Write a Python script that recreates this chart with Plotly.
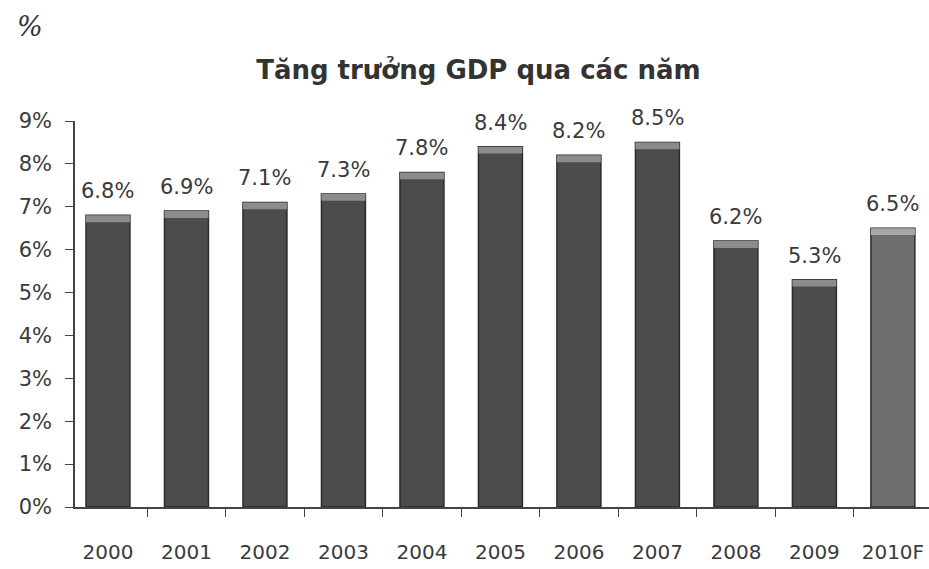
import plotly.graph_objects as go

# GDP growth by year (%), 2010 is a forecast
years = ['2000', '2001', '2002', '2003', '2004', '2005', '2006', '2007', '2008', '2009', '2010F']
growth = [6.8, 6.9, 7.1, 7.3, 7.8, 8.4, 8.2, 8.5, 6.2, 5.3, 6.5]
y_ticks = [0, 1, 2, 3, 4, 5, 6, 7, 8, 9]
y_tick_labels = [f'{v}%' for v in y_ticks]

title_text = 'Tăng trưởng GDP qua các năm'
unit_text = '%'

FONT = 'DejaVu Sans, Verdana, sans-serif'
cap_h = 0.16
bar_colors = ['#6e6e6e' if y.endswith('F') else '#4c4c4c' for y in years]
cap_colors = ['#a8a8a8' if y.endswith('F') else '#8c8c8c' for y in years]

fig = go.Figure()
fig.add_trace(go.Bar(
    x=years, y=growth,
    marker=dict(color=bar_colors, line=dict(color='#2a2a2a', width=1.5)),
    hoverinfo='x+y',
))
# lighter cap at the top of each bar
fig.add_trace(go.Bar(
    x=years, y=[cap_h] * len(years), base=[g - cap_h for g in growth],
    marker=dict(color=cap_colors, line=dict(width=0)),
    hoverinfo='skip',
))

# value labels above the bars (index position, the axis is categorical)
for i, g in enumerate(growth):
    fig.add_annotation(x=i, y=g, text=f'{g:.1f}%', showarrow=False,
                       yanchor='bottom', yshift=10,
                       font=dict(family=FONT, size=21, color='#3a3a3a'))

fig.add_annotation(text='<i>' + unit_text + '</i>', xref='paper', yref='paper', x=-0.07, y=1.2,
                   xanchor='left', yanchor='bottom', showarrow=False,
                   font=dict(family='DejaVu Serif, serif', size=27, color='#333'))

fig.update_layout(
    width=929, height=569,
    margin=dict(l=75, r=0, t=121, b=62),
    paper_bgcolor='white', plot_bgcolor='white',
    barmode='overlay', bargap=0.44,
    showlegend=False,
    title=dict(text='<b>' + title_text + '</b>', x=0.515, xanchor='center', y=0.877, yanchor='middle',
               font=dict(family=FONT, size=26, color='#333')),
    font=dict(family=FONT, size=20, color='#3a3a3a'),
)
fig.update_xaxes(
    type='category', range=[-0.42, 10.46], showline=True, linecolor='#444', linewidth=1.5,
    ticks='outside', tickson='boundaries', ticklen=8, tickcolor='#444',
    ticklabelstandoff=26, showgrid=False, automargin=False,
)
fig.update_yaxes(
    range=[0, 9], tickvals=y_ticks, ticktext=y_tick_labels,
    showline=True, linecolor='#444', linewidth=1.5,
    ticks='outside', ticklen=8, tickcolor='#444', ticklabelstandoff=9,
    tickfont=dict(size=21),
    showgrid=False, zeroline=False, automargin=False,
)

# drop the default page margin so the figure fills the window exactly
fig.write_html('out.html', config={'displayModeBar': False},
               post_script="document.body.style.margin='0';")
